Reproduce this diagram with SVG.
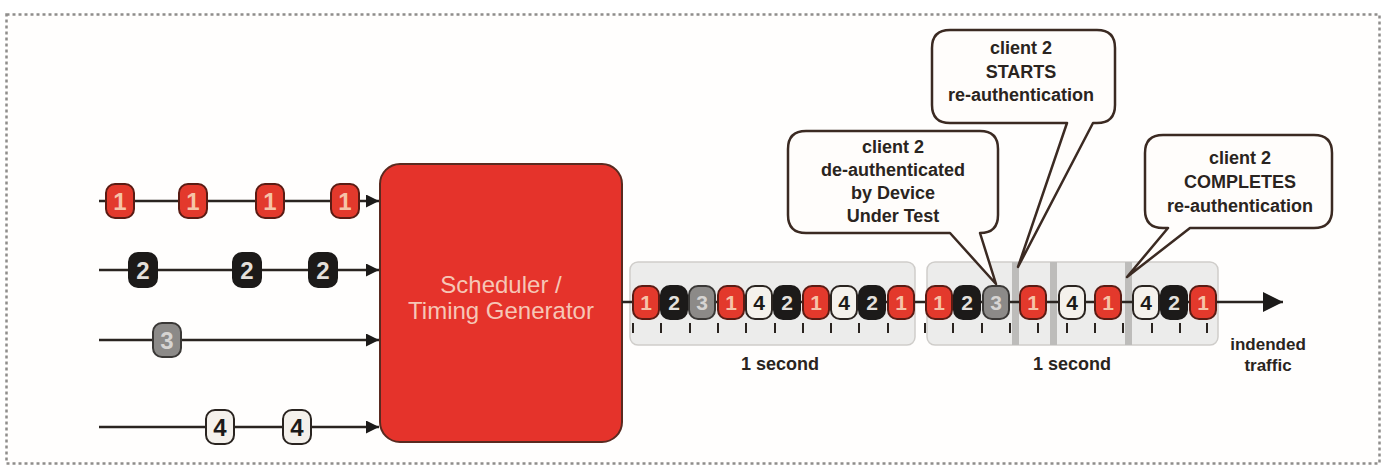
<svg xmlns="http://www.w3.org/2000/svg" width="1385" height="473" viewBox="0 0 1385 473">
<style>
.ln{stroke:#2a2420;stroke-width:2.5;fill:none}
.tk rect{rx:9;ry:9;stroke-width:2}
.r rect{fill:#e3392c;stroke:#5a1c14}
.b rect{fill:#1c1a19;stroke:#1c1a19}
.g rect{fill:#8c8a88;stroke:#3a3836}
.w rect{fill:#f4f1ec;stroke:#2a2420}
.tk text{font-family:"Liberation Sans",Arial,sans-serif;font-weight:bold;text-anchor:middle}
.in text{font-size:24px}
.out text{font-size:21px}
.r text{fill:#f6c3a8}
.b text{fill:#e4e0dc}
.g text{fill:#d6d4d2}
.w text{fill:#1c1a19}
.panel{fill:#ececeb;stroke:#cfcdca;stroke-width:1.5}
.bar{fill:#bdbcba}
.tick{stroke:#2a2420;stroke-width:2}
.lbl{font-family:"Liberation Sans",Arial,sans-serif;font-weight:bold;fill:#2a2420;text-anchor:middle}
.call{fill:#fffdfb;stroke:#3b2a22;stroke-width:2.5;stroke-linejoin:round}
</style>
<defs>
<marker id="ah" markerWidth="13" markerHeight="13" refX="10" refY="5" orient="auto" markerUnits="userSpaceOnUse" viewBox="0 0 10 10">
<path d="M0,0 L10,5 L0,10 Z" fill="#1c1a19"/>
</marker>
<marker id="ah2" markerWidth="22" markerHeight="20" refX="10" refY="5" orient="auto" markerUnits="userSpaceOnUse" viewBox="0 0 10 10">
<path d="M0,0 L10,5 L0,10 Z" fill="#1c1a19"/>
</marker>
</defs>
<rect x="6.5" y="14.5" width="1373" height="449" fill="#fffefd" stroke="#8f8d8b" stroke-width="2.5" stroke-dasharray="3 3"/>

<g id="connectors">
<line class="ln" x1="99" y1="201" x2="379" y2="201" marker-end="url(#ah)"/>
<line class="ln" x1="99" y1="270" x2="379" y2="270" marker-end="url(#ah)"/>
<line class="ln" x1="99" y1="340" x2="379" y2="340" marker-end="url(#ah)"/>
<line class="ln" x1="99" y1="427" x2="379" y2="427" marker-end="url(#ah)"/>
</g>

<g id="scheduler">
<rect x="380" y="164" width="242" height="278" rx="20" ry="20" fill="#e5332b" stroke="#5a2a20" stroke-width="2"/>
<text x="501" y="293" font-family="Liberation Sans,Arial,sans-serif" font-size="24" fill="#f6c6b6" text-anchor="middle">Scheduler /</text>
<text x="501" y="319" font-family="Liberation Sans,Arial,sans-serif" font-size="24" fill="#f6c6b6" text-anchor="middle">Timing Generator</text>
</g>

<g id="input-tokens">
<g class="tk in r"><rect x="106" y="184" width="28" height="34"/><text x="120" y="210">1</text></g>
<g class="tk in r"><rect x="179" y="184" width="28" height="34"/><text x="193" y="210">1</text></g>
<g class="tk in r"><rect x="256" y="184" width="28" height="34"/><text x="270" y="210">1</text></g>
<g class="tk in r"><rect x="331" y="184" width="28" height="34"/><text x="345" y="210">1</text></g>
<g class="tk in b"><rect x="129" y="253" width="28" height="34"/><text x="143" y="279">2</text></g>
<g class="tk in b"><rect x="233" y="253" width="28" height="34"/><text x="247" y="279">2</text></g>
<g class="tk in b"><rect x="309" y="253" width="28" height="34"/><text x="323" y="279">2</text></g>
<g class="tk in g"><rect x="153" y="323" width="28" height="34"/><text x="167" y="349">3</text></g>
<g class="tk in w"><rect x="206" y="410" width="28" height="34"/><text x="220" y="436">4</text></g>
<g class="tk in w"><rect x="283" y="410" width="28" height="34"/><text x="297" y="436">4</text></g>
</g>

<g id="timeline">
<rect class="panel" x="630" y="262" width="285" height="83" rx="8"/>
<rect class="panel" x="927" y="262" width="291" height="83" rx="8"/>
<rect class="bar" x="1012" y="262" width="7" height="83"/>
<rect class="bar" x="1050" y="262" width="7" height="83"/>
<rect class="bar" x="1125" y="262" width="7" height="83"/>
<line class="ln" x1="622" y1="302" x2="1283" y2="302" marker-end="url(#ah2)"/>
<g id="ticks">
<line class="tick" x1="633" y1="323" x2="633" y2="333"/>
<line class="tick" x1="661" y1="323" x2="661" y2="333"/>
<line class="tick" x1="690" y1="323" x2="690" y2="333"/>
<line class="tick" x1="718" y1="323" x2="718" y2="333"/>
<line class="tick" x1="746" y1="323" x2="746" y2="333"/>
<line class="tick" x1="775" y1="323" x2="775" y2="333"/>
<line class="tick" x1="803" y1="323" x2="803" y2="333"/>
<line class="tick" x1="831" y1="323" x2="831" y2="333"/>
<line class="tick" x1="859" y1="323" x2="859" y2="333"/>
<line class="tick" x1="888" y1="323" x2="888" y2="333"/>
<line class="tick" x1="925" y1="323" x2="925" y2="333"/>
<line class="tick" x1="953" y1="323" x2="953" y2="333"/>
<line class="tick" x1="982" y1="323" x2="982" y2="333"/>
<line class="tick" x1="1010" y1="323" x2="1010" y2="333"/>
<line class="tick" x1="1038" y1="323" x2="1038" y2="333"/>
<line class="tick" x1="1067" y1="323" x2="1067" y2="333"/>
<line class="tick" x1="1095" y1="323" x2="1095" y2="333"/>
<line class="tick" x1="1123" y1="323" x2="1123" y2="333"/>
<line class="tick" x1="1152" y1="323" x2="1152" y2="333"/>
<line class="tick" x1="1180" y1="323" x2="1180" y2="333"/>
<line class="tick" x1="1207" y1="323" x2="1207" y2="333"/>
</g>
<g class="tk out r"><rect x="633" y="286" width="26" height="33"/><text x="646" y="310">1</text></g>
<g class="tk out b"><rect x="661" y="286" width="26" height="33"/><text x="674" y="310">2</text></g>
<g class="tk out g"><rect x="689" y="286" width="26" height="33"/><text x="702" y="310">3</text></g>
<g class="tk out r"><rect x="718" y="286" width="26" height="33"/><text x="731" y="310">1</text></g>
<g class="tk out w"><rect x="746" y="286" width="26" height="33"/><text x="759" y="310">4</text></g>
<g class="tk out b"><rect x="774" y="286" width="26" height="33"/><text x="787" y="310">2</text></g>
<g class="tk out r"><rect x="803" y="286" width="26" height="33"/><text x="816" y="310">1</text></g>
<g class="tk out w"><rect x="831" y="286" width="26" height="33"/><text x="844" y="310">4</text></g>
<g class="tk out b"><rect x="859" y="286" width="26" height="33"/><text x="872" y="310">2</text></g>
<g class="tk out r"><rect x="888" y="286" width="26" height="33"/><text x="901" y="310">1</text></g>
<g class="tk out r"><rect x="926" y="286" width="26" height="33"/><text x="939" y="310">1</text></g>
<g class="tk out b"><rect x="954" y="286" width="26" height="33"/><text x="967" y="310">2</text></g>
<g class="tk out g"><rect x="983" y="286" width="26" height="33"/><text x="996" y="310">3</text></g>
<g class="tk out r"><rect x="1020" y="286" width="26" height="33"/><text x="1033" y="310">1</text></g>
<g class="tk out w"><rect x="1059" y="286" width="26" height="33"/><text x="1072" y="310">4</text></g>
<g class="tk out r"><rect x="1095" y="286" width="26" height="33"/><text x="1108" y="310">1</text></g>
<g class="tk out w"><rect x="1133" y="286" width="26" height="33"/><text x="1146" y="310">4</text></g>
<g class="tk out b"><rect x="1161" y="286" width="26" height="33"/><text x="1174" y="310">2</text></g>
<g class="tk out r"><rect x="1190" y="286" width="26" height="33"/><text x="1203" y="310">1</text></g>
<text class="lbl" x="780" y="370" font-size="18">1 second</text>
<text class="lbl" x="1072" y="370" font-size="18">1 second</text>
<text class="lbl" x="1268" y="350" font-size="17">indended</text>
<text class="lbl" x="1268" y="371" font-size="17">traffic</text>
</g>

<g id="callout-deauth">
<path class="call" d="M806,131 H980 Q998,131 998,149 V215 Q998,233 980,233 L996,284 L950,233 H806 Q788,233 788,215 V149 Q788,131 806,131 Z"/>
<text class="lbl" x="893" y="153" font-size="18">client 2</text>
<text class="lbl" x="893" y="176" font-size="18">de-authenticated</text>
<text class="lbl" x="893" y="199" font-size="18">by Device</text>
<text class="lbl" x="893" y="222" font-size="18">Under Test</text>
</g>

<g id="callout-starts">
<path class="call" d="M950,30 H1097 Q1115,30 1115,48 V105 Q1115,123 1097,123 H1093 L1018,267 L1067,123 H950 Q932,123 932,105 V48 Q932,30 950,30 Z"/>
<text class="lbl" x="1021" y="54" font-size="18">client 2</text>
<text class="lbl" x="1021" y="78" font-size="18">STARTS</text>
<text class="lbl" x="1021" y="101" font-size="18">re-authentication</text>
</g>

<g id="callout-completes">
<path class="call" d="M1163,135 H1314 Q1332,135 1332,153 V210 Q1332,228 1314,228 H1190 L1127,277 L1168,228 H1163 Q1145,228 1145,210 V153 Q1145,135 1163,135 Z"/>
<text class="lbl" x="1240" y="164" font-size="18">client 2</text>
<text class="lbl" x="1240" y="188" font-size="18">COMPLETES</text>
<text class="lbl" x="1240" y="212" font-size="18">re-authentication</text>
</g>
</svg>
